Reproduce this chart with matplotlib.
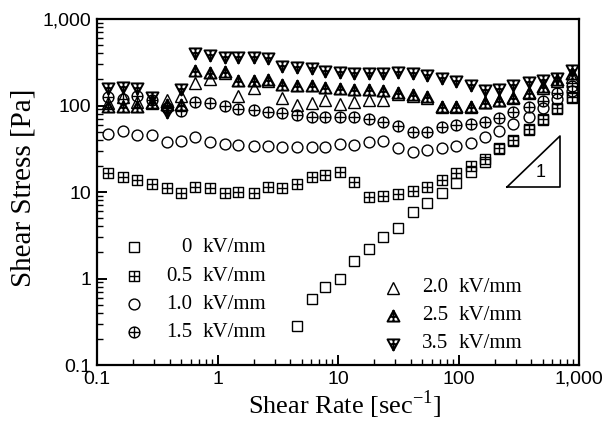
import numpy as np
import matplotlib
matplotlib.use('Agg')
import matplotlib.pyplot as plt
from matplotlib.path import Path
from matplotlib.ticker import LogLocator, FuncFormatter, NullFormatter

# ---------------- data ----------------
shear_rate = [0.123, 0.164, 0.215, 0.286, 0.381, 0.498, 0.650, 0.867, 1.15, 1.48,
              2.01, 2.62, 3.43, 4.57, 6.08, 7.80, 10.4, 13.6, 18.1, 23.6,
              31.5, 41.9, 54.8, 73.0, 95.3, 127, 166, 217, 283, 385,
              502, 657, 875]
shear_rate_0 = [4.57, 6.08, 7.80, 10.4, 13.6, 18.1, 23.6, 31.5, 41.9, 54.8,
                73.0, 95.3, 127, 166, 217, 283, 385, 502, 657, 875]

stress_0 = [0.28, 0.58, 0.80, 1.0, 1.6, 2.2, 3.0, 3.8, 5.9, 7.5,
            9.7, 12.7, 17.0, 22.5, 31, 39, 52, 68, 92, 122]
stress_05 = [16.6, 14.9, 13.8, 12.4, 11.1, 9.7, 11.4, 11.1, 9.7, 10.0,
             9.7, 11.4, 11.1, 12.4, 14.9, 15.7, 17.0, 13.1, 8.8, 9.0,
             9.5, 10.3, 11.4, 13.8, 16.6, 20.0, 24.0, 32.3, 39.9, 53.5,
             69.8, 93.6, 125]
stress_10 = [46.8, 50.7, 45.6, 45.6, 37.8, 38.9, 43.3, 37.8, 35.9, 34.9,
             34.0, 34.0, 33.1, 33.1, 33.1, 33.1, 35.9, 34.9, 37.8, 38.9,
             32.3, 29.0, 30.6, 32.3, 34.0, 36.8, 43.3, 50.7, 61.1, 73.6,
             93.6, 119, 147]
stress_15 = [125, 119, 129, 116, 93.6, 86.3, 110, 107, 98.6, 91.2,
             88.7, 84.1, 81.8, 77.6, 73.6, 73.6, 73.6, 73.6, 69.8, 64.4,
             57.9, 49.4, 49.4, 56.4, 59.6, 61.1, 64.4, 71.6, 84.1, 96.1,
             113, 139, 168]
stress_20 = [107, 125, 110, 107, 116, 129, 182, 202, 238, 129,
             159, 192, 122, 101, 107, 116, 104, 110, 116, 116,
             136, 129, 122, 96, 96, 96, 110, 116, 122, 139,
             159, 192, 214]
stress_25 = [96, 96, 96, 107, 101, 101, 250, 238, 244, 192,
             192, 197, 173, 168, 168, 159, 155, 151, 151, 147,
             139, 132, 125, 96, 96, 96, 107, 113, 122, 139,
             164, 197, 231]
stress_35 = [159, 164, 159, 125, 84, 155, 405, 384, 364, 364,
             364, 354, 286, 279, 271, 250, 244, 238, 238, 238,
             244, 238, 225, 208, 192, 173, 151, 155, 173, 187,
             197, 208, 257]

field_labels_left = ["0", "0.5", "1.0", "1.5"]
field_labels_right = ["2.0", "2.5", "3.5"]
unit = "kV/mm"

# ---------------- markers ----------------
M, L, C = Path.MOVETO, Path.LINETO, Path.CLOSEPOLY

def poly_with_cross(poly, segs):
    verts = list(poly) + [poly[0]]
    codes = [M] + [L] * (len(poly) - 1) + [C]
    for a, b in segs:
        verts += [a, b]
        codes += [M, L]
    return Path(verts, codes)

sq_plus = poly_with_cross([(-1, -1), (1, -1), (1, 1), (-1, 1)],
                          [((0, -1), (0, 1)), ((-1, 0), (1, 0))])
circ_plus = Path.make_compound_path(
    Path.unit_circle(),
    Path([(0, -1), (0, 1), (-1, 0), (1, 0)], [M, L, M, L]))
tri_up_plus = poly_with_cross([(0, 1), (-1, -0.85), (1, -0.85)],
                              [((0, 1), (0, -0.85)), ((-0.55, -0.05), (0.55, -0.05))])
tri_dn_plus = poly_with_cross([(0, -1), (-1, 0.85), (1, 0.85)],
                              [((0, -1), (0, 0.85)), ((-0.55, 0.05), (0.55, 0.05))])

styles = [
    dict(marker='s', ms=6.8, mew=1.0),
    dict(marker=sq_plus, ms=7.0, mew=1.0),
    dict(marker='o', ms=7.8, mew=1.0),
    dict(marker=circ_plus, ms=7.8, mew=1.0),
    dict(marker='^', ms=8.6, mew=1.0),
    dict(marker=tri_up_plus, ms=8.6, mew=1.4),
    dict(marker=tri_dn_plus, ms=8.6, mew=1.4),
]

plt.rcParams['mathtext.fontset'] = 'custom'
plt.rcParams['mathtext.rm'] = 'Liberation Serif'

W, H = 605, 423
fig = plt.figure(figsize=(W / 100, H / 100), dpi=100)
ax_l, ax_r, ax_t, ax_b = 97, 579, 19, 365
ax = fig.add_axes([ax_l / W, (H - ax_b) / H, (ax_r - ax_l) / W, (ax_b - ax_t) / H])

series = [(shear_rate_0, stress_0), (shear_rate, stress_05), (shear_rate, stress_10),
          (shear_rate, stress_15), (shear_rate, stress_20), (shear_rate, stress_25),
          (shear_rate, stress_35)]
for (x, y), st in zip(series, styles):
    ax.plot(x, y, linestyle='none', mfc='none', mec='black', color='black', **st)

ax.set_xscale('log')
ax.set_yscale('log')
ax.set_xlim(0.1, 1000)
ax.set_ylim(0.1, 1000)

def fmt(v, pos):
    if v >= 1:
        return f"{int(round(v)):,}"
    return f"{v:g}"

for axis in (ax.xaxis, ax.yaxis):
    axis.set_major_locator(LogLocator(base=10))
    axis.set_minor_locator(LogLocator(base=10, subs=np.arange(2, 10)))
    axis.set_major_formatter(FuncFormatter(fmt))
    axis.set_minor_formatter(NullFormatter())

ax.tick_params(which='both', direction='in', top=False, right=False, labelsize=14)
ax.tick_params(axis='x', which='major', pad=4)
ax.tick_params(axis='y', which='major', pad=4)
ax.tick_params(which='major', length=7, width=1.4)
ax.tick_params(which='minor', length=4, width=1.0)
for lab in ax.get_xticklabels() + ax.get_yticklabels():
    lab.set_family('Liberation Sans')
for sp in ax.spines.values():
    sp.set_linewidth(1.6)

def axf(px, py):
    return ((px - ax_l) / (ax_r - ax_l), (ax_b - py) / (ax_b - ax_t))

ax.set_xlabel(r"Shear Rate [sec$^{\mathregular{-1}}$]", family='Liberation Serif',
              fontsize=19)
ax.xaxis.set_label_coords(*axf(345, 405))
ax.xaxis.label.set_va('center')
ax.set_ylabel("Shear Stress [Pa]", family='Liberation Serif', fontsize=21)
ax.yaxis.set_label_coords(*axf(24, 188))
ax.yaxis.label.set_va('center')

# slope triangle (axes fraction)
tri = [axf(507, 187), axf(560, 136), axf(560, 187), axf(507, 187)]
ax.plot([p[0] for p in tri], [p[1] for p in tri], transform=ax.transAxes,
        color='black', lw=1.2)
ax.text(*axf(541, 172), "1", transform=ax.transAxes, family='Liberation Sans',
        fontsize=13, ha='center', va='center')

# legend (manual, figure pixel positions)
def fp(px, py):
    return (px / W, 1 - py / H)

ftr = fig.transFigure
left_rows = [247, 276, 304, 332]
for i, ypos in enumerate(left_rows):
    st = styles[i]
    mx, my = fp(134, ypos)
    ax.plot([mx], [my], transform=ftr, linestyle='none', mfc='none', mec='black',
            clip_on=False, **st)
    fig.text(*fp(192, ypos), field_labels_left[i], ha='right', va='center',
             family='Liberation Serif', fontsize=15)
    fig.text(*fp(203, ypos), unit, ha='left', va='center',
             family='Liberation Serif', fontsize=15)
right_rows = [288, 316, 344]
for i, ypos in enumerate(right_rows):
    st = styles[4 + i]
    mx, my = fp(393, ypos)
    ax.plot([mx], [my], transform=ftr, linestyle='none', mfc='none', mec='black',
            clip_on=False, **st)
    fig.text(*fp(448, ypos), field_labels_right[i], ha='right', va='center',
             family='Liberation Serif', fontsize=15)
    fig.text(*fp(459, ypos), unit, ha='left', va='center',
             family='Liberation Serif', fontsize=15)

fig.savefig('out.png', dpi=100)
